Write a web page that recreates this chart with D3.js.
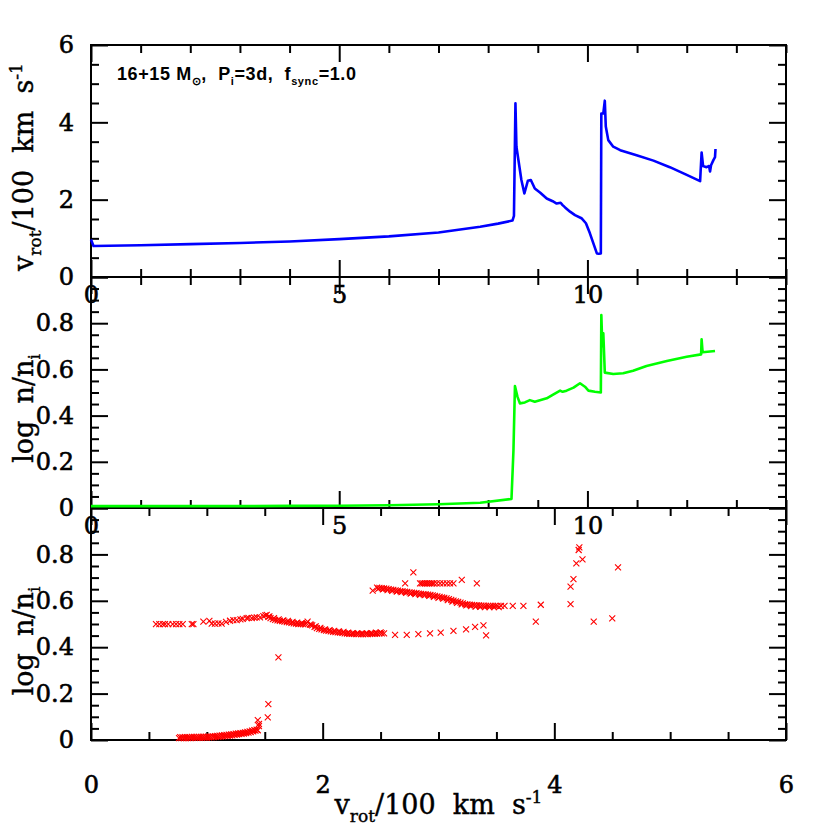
<!DOCTYPE html>
<html><head><meta charset="utf-8">
<script src="https://cdn.jsdelivr.net/npm/d3@7"></script>
<style>body{margin:0;background:#fff} svg{display:block}</style>
</head><body><svg id="c" width="830" height="830"></svg>
<script>
// ---------- DATA ----------
// top panel: rotational velocity vs time
const timeBlue = [0, 0.05, 1, 2, 3, 4, 5, 6, 7, 7.84, 8.2, 8.49, 8.52, 8.55, 8.57, 8.67, 8.73, 8.80, 8.86, 8.94, 9.05, 9.18, 9.3, 9.38, 9.46, 9.5, 9.55, 9.65, 9.75, 9.88, 9.97, 10.05, 10.12, 10.19, 10.23, 10.27, 10.28, 10.32, 10.35, 10.37, 10.42, 10.52, 10.66, 10.99, 11.33, 11.66, 12.0, 12.27, 12.30, 12.33, 12.40, 12.45, 12.47, 12.49, 12.54, 12.57, 12.58];
const vrotBlue = [0.97, 0.80, 0.82, 0.85, 0.88, 0.92, 0.98, 1.05, 1.15, 1.30, 1.38, 1.46, 1.58, 4.49, 3.37, 2.51, 2.16, 2.49, 2.51, 2.29, 2.18, 2.03, 1.96, 1.90, 1.92, 1.86, 1.80, 1.69, 1.60, 1.52, 1.39, 1.13, 0.87, 0.61, 0.60, 0.61, 4.23, 4.23, 4.56, 3.89, 3.54, 3.37, 3.28, 3.15, 3.01, 2.84, 2.64, 2.48, 3.22, 2.87, 2.84, 2.87, 2.73, 2.89, 3.03, 3.10, 3.31];
// middle panel: log n/ni vs time
const timeGreen = [0, 1, 2, 3, 4, 5, 6, 7, 7.84, 8.47, 8.51, 8.54, 8.59, 8.64, 8.74, 8.84, 8.94, 9.18, 9.3, 9.45, 9.5, 9.58, 9.72, 9.85, 9.95, 10.02, 10.15, 10.27, 10.28, 10.30, 10.32, 10.33, 10.35, 10.52, 10.72, 10.92, 11.19, 11.6, 12.0, 12.29, 12.30, 12.32, 12.57];
const nGreen = [0.008, 0.008, 0.008, 0.008, 0.009, 0.010, 0.012, 0.016, 0.023, 0.039, 0.25, 0.528, 0.482, 0.453, 0.457, 0.467, 0.46, 0.475, 0.49, 0.508, 0.503, 0.508, 0.521, 0.54, 0.525, 0.508, 0.503, 0.50, 0.835, 0.70, 0.756, 0.70, 0.586, 0.58, 0.583, 0.594, 0.615, 0.636, 0.655, 0.665, 0.73, 0.674, 0.68];
// bottom panel: log n/ni vs vrot (scatter, by branch)
const lowV = [0.76,0.78,0.80,0.82,0.84,0.86,0.88,0.90,0.92,0.94,0.96,0.98,1.00,1.02,1.04,1.06,1.08,1.10,1.12,1.14,1.16,1.18,1.20,1.22,1.24,1.26,1.28,1.30,1.32,1.34,1.36,1.38,1.40,1.42,1.44];
const lowN = [0.008,0.008,0.008,0.008,0.008,0.008,0.009,0.009,0.009,0.009,0.009,0.010,0.010,0.011,0.011,0.012,0.013,0.014,0.015,0.016,0.017,0.018,0.019,0.020,0.022,0.023,0.025,0.026,0.028,0.030,0.032,0.034,0.037,0.040,0.042];
const lowV2 = [0.77,0.79,0.81,0.83,0.85,0.87,0.89,0.91,0.93,0.95,0.97,0.99,1.01,1.03,1.05,1.07,1.09,1.11,1.13,1.15,1.17,1.19,1.21,1.23,1.25,1.27,1.29,1.31,1.33,1.35,1.37,1.39,1.41,1.43];
const lowN2 = [0.012,0.012,0.012,0.012,0.012,0.013,0.013,0.013,0.013,0.013,0.014,0.014,0.015,0.015,0.016,0.017,0.018,0.019,0.020,0.021,0.022,0.023,0.024,0.025,0.027,0.028,0.030,0.031,0.033,0.035,0.037,0.040,0.043,0.045];
const jumpV = [1.45, 1.45, 1.44, 1.526, 1.531, 1.618];
const jumpN = [0.060, 0.069, 0.086, 0.098, 0.155, 0.356];
const midV = [0.561,0.59,0.619,0.639,0.667,0.705,0.734,0.763,0.792,0.870,0.884,0.970,1.022,1.042,1.07,1.10,1.128,1.166,1.2,1.229,1.258,1.29,1.31,1.344,1.36,1.388,1.41,1.431,1.459,1.488,1.505,1.517,1.531,
  1.55,1.57,1.59,1.61,1.63,1.65,1.67,1.69,1.71,1.73,1.75,1.77,1.79,1.81,1.83,1.85,1.87,1.89,1.91,1.93,1.95,1.97,1.99,2.01,2.03,2.05,2.07,2.09,2.11,2.13,2.15,2.17,2.19,2.21,2.23,2.25,2.27,2.29,2.31,2.33,2.35,2.37,2.39,2.41,2.43,2.45,2.47,2.49,2.51,2.53];
const midN = [0.499,0.499,0.499,0.499,0.499,0.499,0.499,0.499,0.499,0.499,0.499,0.510,0.513,0.502,0.502,0.503,0.502,0.509,0.514,0.517,0.517,0.520,0.522,0.525,0.526,0.525,0.527,0.529,0.529,0.534,0.537,0.539,0.531,
  0.525,0.521,0.518,0.516,0.514,0.512,0.510,0.508,0.507,0.505,0.503,0.502,0.500,0.500,0.499,0.498,0.510,0.497,0.494,0.488,0.482,0.479,0.477,0.474,0.471,0.470,0.468,0.466,0.465,0.464,0.463,0.462,0.460,0.459,0.458,0.457,0.457,0.456,0.456,0.456,0.456,0.456,0.456,0.457,0.458,0.458,0.459,0.460,0.460,0.460];
const midV2 = [1.54,1.58,1.62,1.66,1.70,1.74,1.78,1.82,1.86,1.90,1.94,1.98,2.02,2.06,2.10,2.14,2.18,2.22,2.26,2.30,2.34,2.38,2.42,2.46,2.50];
const midN2 = [0.533,0.525,0.520,0.516,0.513,0.509,0.506,0.504,0.503,0.497,0.490,0.483,0.477,0.474,0.470,0.468,0.466,0.463,0.461,0.460,0.460,0.460,0.461,0.463,0.464];
const rowV = [2.625,2.726,2.826,2.927,3.019,3.129,3.238,3.316,3.388,3.411];
const rowN = [0.453,0.453,0.456,0.460,0.463,0.470,0.477,0.488,0.494,0.451];
const upV = [2.432,2.47,2.49,2.51,2.53,2.55,2.57,2.59,2.61,2.63,2.65,2.67,2.69,2.71,2.73,2.75,2.77,2.79,2.81,2.83,2.85,2.87,2.89,2.91,2.93,2.95,2.97,2.99,3.01,3.03,3.05,3.07,3.09,3.11,3.13,3.15,3.17,3.19,3.21,3.23,3.25,3.27,3.29,3.31,3.33,3.35,3.37,3.39,3.41,3.43,3.45,3.47,3.49,3.51,3.54,3.57,3.641,3.733,3.883];
const upN = [0.644,0.657,0.656,0.655,0.653,0.652,0.650,0.648,0.647,0.645,0.644,0.642,0.641,0.640,0.638,0.636,0.635,0.634,0.633,0.631,0.630,0.629,0.628,0.627,0.625,0.623,0.621,0.619,0.617,0.615,0.613,0.610,0.607,0.604,0.601,0.598,0.595,0.592,0.589,0.586,0.584,0.583,0.582,0.581,0.580,0.580,0.579,0.579,0.578,0.578,0.578,0.578,0.578,0.578,0.578,0.578,0.578,0.578,0.583];
const upV2 = [2.48,2.52,2.56,2.60,2.64,2.68,2.72,2.76,2.80,2.84,2.88,2.92,2.96,3.00,3.04,3.08,3.12,3.16,3.20,3.24,3.28,3.32,3.36,3.40,3.44,3.48,3.52];
const upN2 = [0.651,0.649,0.646,0.643,0.640,0.637,0.634,0.631,0.629,0.626,0.624,0.621,0.617,0.613,0.609,0.603,0.597,0.591,0.585,0.580,0.577,0.575,0.574,0.573,0.573,0.573,0.573];
const up2V = [2.712,2.783,2.841,2.855,2.87,2.885,2.90,2.915,2.93,2.945,2.96,2.985,3.014,3.042,3.072,3.10,3.129,3.201,3.331];
const up2N = [0.675,0.723,0.675,0.675,0.675,0.675,0.675,0.675,0.675,0.675,0.675,0.675,0.675,0.675,0.675,0.675,0.675,0.690,0.675];
const rightV = [3.84,4.14,4.14,4.165,4.19,4.21,4.216,4.243,4.34,4.50,4.55];
const rightN = [0.51,0.586,0.661,0.693,0.761,0.819,0.83,0.779,0.51,0.524,0.744];

// ticks / labels
const topXMajor = [0,5,10], topXMinor = [1,2,3,4,6,7,8,9,11,12,13,14];
const topYMajor = [0,2,4,6], topYMinor = [0.5,1,1.5,2.5,3,3.5,4.5,5,5.5];
const nYMajor = [0,0.2,0.4,0.6,0.8,1.0], nYMinor = [0.05,0.1,0.15,0.25,0.3,0.35,0.45,0.5,0.55,0.65,0.7,0.75,0.85,0.9,0.95];
const nYLabels = [0,0.2,0.4,0.6,0.8];
const botXMajor = [0,2,4,6], botXMinor = [0.5,1,1.5,2.5,3,3.5,4.5,5,5.5];

// ---------- DRAW ----------
const svg = d3.select('#c');
const L = 91, R = 786, T1 = 45, B1 = 277, B2 = 508, B3 = 740;
const xT = d3.scaleLinear().domain([0,14]).range([L,R]);
const yT = d3.scaleLinear().domain([0,6]).range([B1,T1]);
const yM = d3.scaleLinear().domain([0,1]).range([B2,B1]);
const xB = d3.scaleLinear().domain([0,6]).range([L,R]);
const yB = d3.scaleLinear().domain([0,1]).range([B3,B2]);

const MAJ = 17, MIN = 8;
function tickSet(axisFn, scale, vals, size, tx, ty) {
  svg.append('g').attr('transform', `translate(${tx},${ty})`)
    .call(axisFn(scale).tickValues(vals).tickSize(-size).tickFormat(''))
    .call(g => g.select('.domain').remove())
    .call(g => g.selectAll('line').attr('stroke','#000').attr('stroke-width',2));
}
function frameTicks(x, y, xMaj, xMin, yMaj, yMin, top, bottom) {
  tickSet(d3.axisBottom, x, xMaj, MAJ, 0, bottom);
  tickSet(d3.axisBottom, x, xMin, MIN, 0, bottom);
  tickSet(d3.axisTop, x, xMaj, MAJ, 0, top);
  tickSet(d3.axisTop, x, xMin, MIN, 0, top);
  tickSet(d3.axisLeft, y, yMaj, MAJ, L, 0);
  tickSet(d3.axisLeft, y, yMin, MIN, L, 0);
  tickSet(d3.axisRight, y, yMaj, MAJ, R, 0);
  tickSet(d3.axisRight, y, yMin, MIN, R, 0);
}
frameTicks(xT, yT, topXMajor, topXMinor, topYMajor, topYMinor, T1, B1);
frameTicks(xT, yM, topXMajor, topXMinor, nYMajor, nYMinor, B1, B2);
frameTicks(xB, yB, botXMajor, botXMinor, nYMajor, nYMinor, B2, B3);

// frames
[[T1,B1],[B1,B2],[B2,B3]].forEach(([t,b]) => {
  svg.append('rect').attr('x',L).attr('y',t).attr('width',R-L).attr('height',b-t)
    .attr('fill','none').attr('stroke','#000').attr('stroke-width',2);
});

// tick labels
const LBL = "'DejaVu Serif', serif";
function labelAxis(axisFn, scale, vals, fmt, tx, ty, pad) {
  svg.append('g').attr('transform', `translate(${tx},${ty})`)
    .call(axisFn(scale).tickValues(vals).tickSize(0).tickPadding(pad).tickFormat(fmt))
    .call(g => g.select('.domain').remove())
    .call(g => g.selectAll('text').attr('font-family', LBL).attr('font-size', 24).attr('fill','#000')
      .attr('stroke','#000').attr('stroke-width',0.6));
}
const fmtN = d => d === 0 ? '0' : d3.format('.1f')(d);
labelAxis(d3.axisLeft, yT, topYMajor, d3.format('d'), L, 0, 17);
labelAxis(d3.axisLeft, yM, nYLabels, fmtN, L, 0, 17);
labelAxis(d3.axisLeft, yB, nYLabels, fmtN, L, 0, 17);
labelAxis(d3.axisBottom, xT, topXMajor, d3.format('d'), 0, B1, 9);
labelAxis(d3.axisBottom, xT, topXMajor, d3.format('d'), 0, B2, 9);
labelAxis(d3.axisBottom, xB, botXMajor, d3.format('d'), 0, B3, 36);

// lines
const lineT = d3.line().x((d,i) => xT(timeBlue[i])).y((d,i) => yT(vrotBlue[i]));
svg.append('path').attr('d', lineT(vrotBlue)).attr('fill','none').attr('stroke','#0000ff')
  .attr('stroke-width',2.6).attr('stroke-linejoin','round');
const lineM = d3.line().x((d,i) => xT(timeGreen[i])).y((d,i) => yM(nGreen[i]));
svg.append('path').attr('d', lineM(nGreen)).attr('fill','none').attr('stroke','#00ff00')
  .attr('stroke-width',2.6).attr('stroke-linejoin','round');

// scatter
const sv = [].concat(lowV, lowV2, jumpV, midV, midV2, rowV, upV, upV2, up2V, rightV);
const sn = [].concat(lowN, lowN2, jumpN, midN, midN2, rowN, upN, upN2, up2N, rightN);
const s = 3;
svg.append('g').selectAll('path').data(sv).join('path')
  .attr('d', (d,i) => { const x = xB(d), y = yB(sn[i]);
    return `M${x-s},${y-s}L${x+s},${y+s}M${x-s},${y+s}L${x+s},${y-s}`; })
  .attr('stroke','#ff0000').attr('stroke-width',1.1).attr('fill','none');

// axis titles
const TF = "'DejaVu Serif', serif";
function vrotTitle(sel) {
  sel.append('tspan').text('v');
  sel.append('tspan').attr('font-size',17).attr('dy',8).text('rot');
  sel.append('tspan').attr('dy',-8).text('/100\u00a0\u00a0km\u00a0\u00a0s');
  sel.append('tspan').attr('font-size',17).attr('dy',-11).text('-1');
}
const xt = svg.append('text').attr('x', (L+R)/2).attr('y', 814).attr('text-anchor','middle')
  .attr('font-family', TF).attr('font-size', 27).attr('fill','#000').attr('stroke','#000').attr('stroke-width',0.4);
vrotTitle(xt);
const yt = svg.append('text').attr('transform', `translate(33,${(T1+B1)/2+6}) rotate(-90)`).attr('text-anchor','middle')
  .attr('font-family', TF).attr('font-size', 27).attr('fill','#000').attr('stroke','#000').attr('stroke-width',0.4);
vrotTitle(yt);
function nTitle(cy) {
  const t = svg.append('text').attr('transform', `translate(33,${cy}) rotate(-90)`).attr('text-anchor','middle')
    .attr('font-family', TF).attr('font-size', 27).attr('fill','#000').attr('stroke','#000').attr('stroke-width',0.4);
  t.append('tspan').text('log\u00a0\u00a0n/n');
  t.append('tspan').attr('font-size',17).attr('dy',7).text('i');
}
nTitle((B1+B2)/2 + 16);
nTitle((B2+B3)/2 + 17);

// annotation
const an = svg.append('text').attr('x',117).attr('y',80)
  .attr('font-family',"'Liberation Sans', Arial, sans-serif").attr('font-weight','bold').attr('font-size',18)
  .attr('letter-spacing',0.6).attr('fill','#000');
an.append('tspan').text('16+15 M');
an.append('tspan').attr('font-size',11).attr('dy',5).text('\u2299');
an.append('tspan').attr('dy',-5).text(',\u00a0 P');
an.append('tspan').attr('font-size',11).attr('dy',5).text('i');
an.append('tspan').attr('dy',-5).text('=3d,\u00a0 f');
an.append('tspan').attr('font-size',11).attr('dy',5).text('sync');
an.append('tspan').attr('dy',-5).text('=1.0');
</script>
</body></html>
